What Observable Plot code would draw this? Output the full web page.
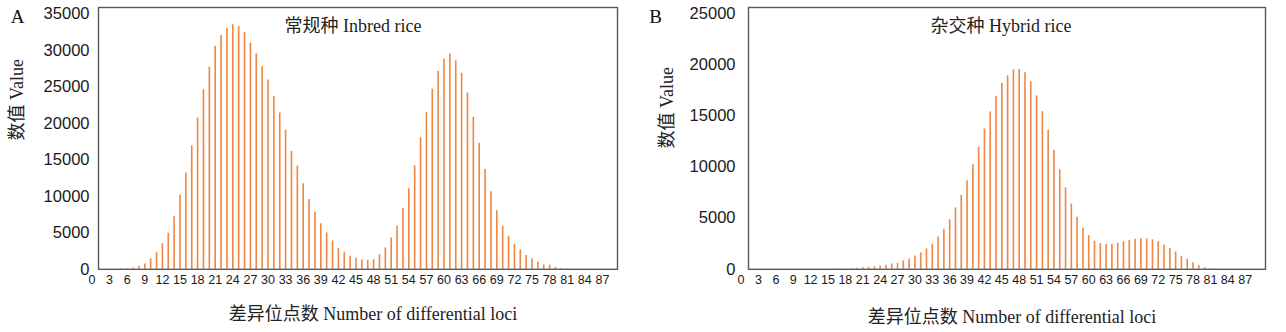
<!DOCTYPE html>
<html><head><meta charset="utf-8">
<script src="https://cdn.jsdelivr.net/npm/d3@7"></script>
<script src="https://cdn.jsdelivr.net/npm/@observablehq/plot@0.6"></script>
<style>
body{margin:0;background:#fff;}
#wrap{position:relative;width:1286px;height:332px;overflow:hidden;}
.panel{position:absolute;top:0;}
</style></head><body>
<div id="wrap"><div class="panel" id="pa" style="left:0"></div><div class="panel" id="pb" style="left:643px"></div></div>
<script>
// x tick labels (number of differential loci)
const xTicks = d3.range(0, 88, 3);

// Panel A: inbred rice — counts for consecutive loci numbers starting at inbredStart
const inbredStart = 5;
const inbredValues = [
  40, 60, 180, 410, 730, 1420, 2290, 3520, 4940, 7190,
  10170, 13190, 16940, 20750, 24640, 27710, 30590, 32060, 33070, 33530,
  33300, 32470, 31010, 29540, 27800, 25960, 23680, 21430, 19090, 16160,
  14150, 11730, 9570, 7870, 6260, 4990, 3890, 2890, 2340, 1790,
  1510, 1280, 1240, 1330, 2020, 2930, 4300, 5950, 8340, 11040,
  14200, 18050, 21480, 24690, 27110, 28810, 29540, 28580, 26880, 24180,
  20840, 17270, 13690, 10630, 8020, 5910, 4530, 3440, 2660, 1880,
  1420, 960, 600, 550, 270, 90, 30
];
const inbredYTicks = [0, 5000, 10000, 15000, 20000, 25000, 30000, 35000];

// Panel B: hybrid rice
const hybridStart = 16;
const hybridValues = [
  20, 30, 30, 65, 100, 160, 200, 260, 330, 390,
  520, 590, 820, 1010, 1310, 1600, 2000, 2450, 3170, 3920,
  4840, 6020, 7230, 8670, 10240, 11940, 13730, 15400, 16900, 18180,
  18930, 19520, 19550, 19230, 18340, 16970, 15430, 13600, 11640, 9740,
  7980, 6380, 5100, 4050, 3300, 2750, 2520, 2420, 2420, 2550,
  2710, 2810, 2940, 2980, 2980, 2880, 2710, 2350, 2030, 1700,
  1240, 980, 650, 360, 160, 60, 20
];
const hybridYTicks = [0, 5000, 10000, 15000, 20000, 25000];

const xTitle = "差异位点数 Number of differential loci";
const yTitle = "数值 Value";
const barColor = "#ef8641";
const serif = "'Liberation Serif','Times New Roman','Noto Sans CJK SC',serif";

function panel(o) {
  const data = o.values.map((v, i) => ({x: o.start + i, v}));
  return Plot.plot({
    width: 643, height: 332,
    marginLeft: o.marginLeft, marginRight: o.marginRight, marginTop: 7, marginBottom: 63.2,
    style: {fontFamily: "'Liberation Sans',Arial,sans-serif", color: "#1a1a1a", background: "#fff", overflow: "visible"},
    x: {type: "linear", domain: o.xDomain},
    y: {type: "linear", domain: o.yDomain},
    marks: [
      Plot.ruleX(data, {x: "x", y1: 0, y2: "v", stroke: barColor, strokeWidth: 1.6}),
      Plot.frame({stroke: "#5a5a5a", strokeWidth: 1.4}),
      Plot.axisX({ticks: xTicks, tickSize: 0, tickPadding: 6, fontSize: 12.5, tickFormat: d3.format("d"), label: null}),
      Plot.axisY({ticks: o.yTicks, tickSize: 0, tickPadding: o.yPad, fontSize: 16.5, tickFormat: d3.format("d"), label: null}),
      Plot.text([o.title], {text: d => d, frameAnchor: "top", dx: o.titleDx, dy: 19, lineAnchor: "middle", fontFamily: serif, fontSize: 18, fill: "#222"}),
      Plot.text([xTitle], {text: d => d, frameAnchor: "bottom", dx: o.xTitleDx, dy: o.xTitleDy, lineAnchor: "middle", fontFamily: serif, fontSize: 18, fill: "#222"}),
      Plot.text([yTitle], {text: d => d, frameAnchor: "left", dx: -o.yTitleOffset, dy: o.yTitleDy, rotate: -90, lineAnchor: "middle", fontFamily: serif, fontSize: 18, fill: "#222"}),
      Plot.text([o.letter], {text: d => d, frameAnchor: "top-left", dx: o.letterDx, dy: 9, textAnchor: "middle", lineAnchor: "middle", fontFamily: serif, fontSize: 19, fill: "#111"})
    ]
  });
}

document.getElementById("pa").appendChild(panel({
  values: inbredValues, start: inbredStart, yTicks: inbredYTicks,
  xDomain: [1.11, 89.57], yDomain: [0, 35900],
  marginLeft: 98, marginRight: 26, yPad: 9,
  title: "常规种 Inbred rice", titleDx: -5, xTitleDx: 15, xTitleDy: 44.5,
  yTitleOffset: 81, yTitleDy: 2, letter: "A", letterDx: -81
}));
document.getElementById("pb").appendChild(panel({
  values: hybridValues, start: hybridStart, yTicks: hybridYTicks,
  xDomain: [1.28, 90.51], yDomain: [0, 25616],
  marginLeft: 105, marginRight: 21, yPad: 13,
  title: "杂交种 Hybrid rice", titleDx: -6, xTitleDx: 5, xTitleDy: 48,
  yTitleOffset: 81, yTitleDy: 10, letter: "B", letterDx: -93
}));
</script>
</body></html>
